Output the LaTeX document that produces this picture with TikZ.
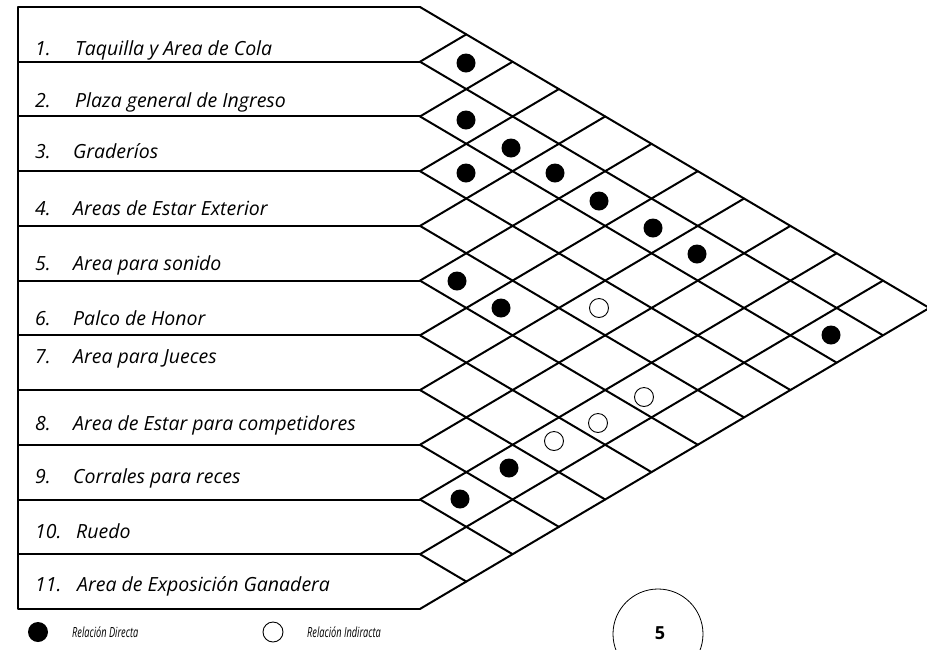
\documentclass[tikz,border=0pt]{standalone}
\usepackage{fontspec}
\setmainfont{Open Sans}
\begin{document}
\begin{tikzpicture}[x=1pt,y=-1pt,
  gridline/.style={line width=2pt, line cap=round, line join=round},
  rowlabel/.style={anchor=base west, inner sep=0pt, font=\fontsize{19.5}{19.5}\selectfont\itshape},
  fdot/.style={circle, fill=black, minimum size=19pt, inner sep=0pt},
  odot/.style={circle, draw=black, line width=0.9pt, minimum size=19pt, inner sep=0pt},
  legendtext/.style={anchor=base west, inner sep=0pt, font=\fontsize{14}{14}\selectfont\itshape}]
\useasboundingbox (0,0) rectangle (927,649);
\clip (0,0) rectangle (927,649);
% left border
\draw[line width=1.5pt] (18,7) -- (18,609);
% row separators
\foreach \k in {0,...,11} {
  \pgfmathsetmacro\yb{7+\k*54.73}
  \draw[gridline] (18,\yb) -- (420,\yb);
}
% diamond grid
\begin{scope}[shift={(420pt,-7pt)}, x=46.3pt, y=-27.36pt]
  \foreach \k in {0,...,11} {
    \pgfmathtruncatemacro\kk{2*\k}
    \pgfmathtruncatemacro\dm{11-\k}
    \pgfmathtruncatemacro\dK{\k+11}
    \ifnum\k<11 \draw[gridline] (0,\kk) -- (\dm,\dK); \fi
    \ifnum\k>0 \draw[gridline] (0,\kk) -- (\k,\k); \fi
  }
\end{scope}
% row labels
\foreach \i/\yy/\xx/\name in {
  1/55/75/{Taquilla y Area de Cola},
  2/107/75/{Plaza general de Ingreso},
  3/158/73/{Graderíos},
  4/215/73/{Areas de Estar Exterior},
  5/270/73/{Area para sonido},
  6/325/73/{Palco de Honor},
  7/363/73/{Area para Jueces},
  8/430/73/{Area de Estar para competidores},
  9/483/73/{Corrales para reces},
  10/538/76/{Ruedo},
  11/591/77/{Area de Exposición Ganadera}} {
  \node[rowlabel] (num\i) at (35,\yy) {\i.};
  \node[rowlabel] (lab\i) at (\xx,\yy) {\name};
}
% direct relations
\node[fdot] (d1-2) at (466,63) {};
\node[fdot] (d2-3) at (466,120) {};
\node[fdot] (d2-4) at (511,148) {};
\node[fdot] (d3-4) at (466,173) {};
\node[fdot] (d2-5) at (555,173) {};
\node[fdot] (d2-6) at (599,201) {};
\node[fdot] (d2-7) at (653,228) {};
\node[fdot] (d2-8) at (697,254) {};
\node[fdot] (d2-11) at (831,335) {};
\node[fdot] (d5-6) at (457,281) {};
\node[fdot] (d5-7) at (501,308) {};
\node[fdot] (d8-10) at (509,468) {};
\node[fdot] (d9-10) at (460,499) {};
% indirect relations
\node[odot] (i4-8) at (599,308) {};
\node[odot] (i5-10) at (644,397) {};
\node[odot] (i6-10) at (598,423) {};
\node[odot] (i7-10) at (554,441) {};
% legend
\node[fdot, minimum size=20pt] (legD) at (38,632) {};
\node[legendtext] (legDt) at (72,637) {\scalebox{0.66}[1]{Relación Directa}};
\node[odot, minimum size=20pt] (legI) at (273,632) {};
\node[legendtext] (legIt) at (307,637) {\scalebox{0.66}[1]{Relación Indiracta}};
% page number
\node[circle, draw, line width=0.8pt, minimum size=90pt, inner sep=0pt] (page) at (658,634) {};
\node[font=\fontsize{18}{18}\selectfont\bfseries, inner sep=0pt] (pnum) at (660,633) {5};
\end{tikzpicture}
\end{document}
